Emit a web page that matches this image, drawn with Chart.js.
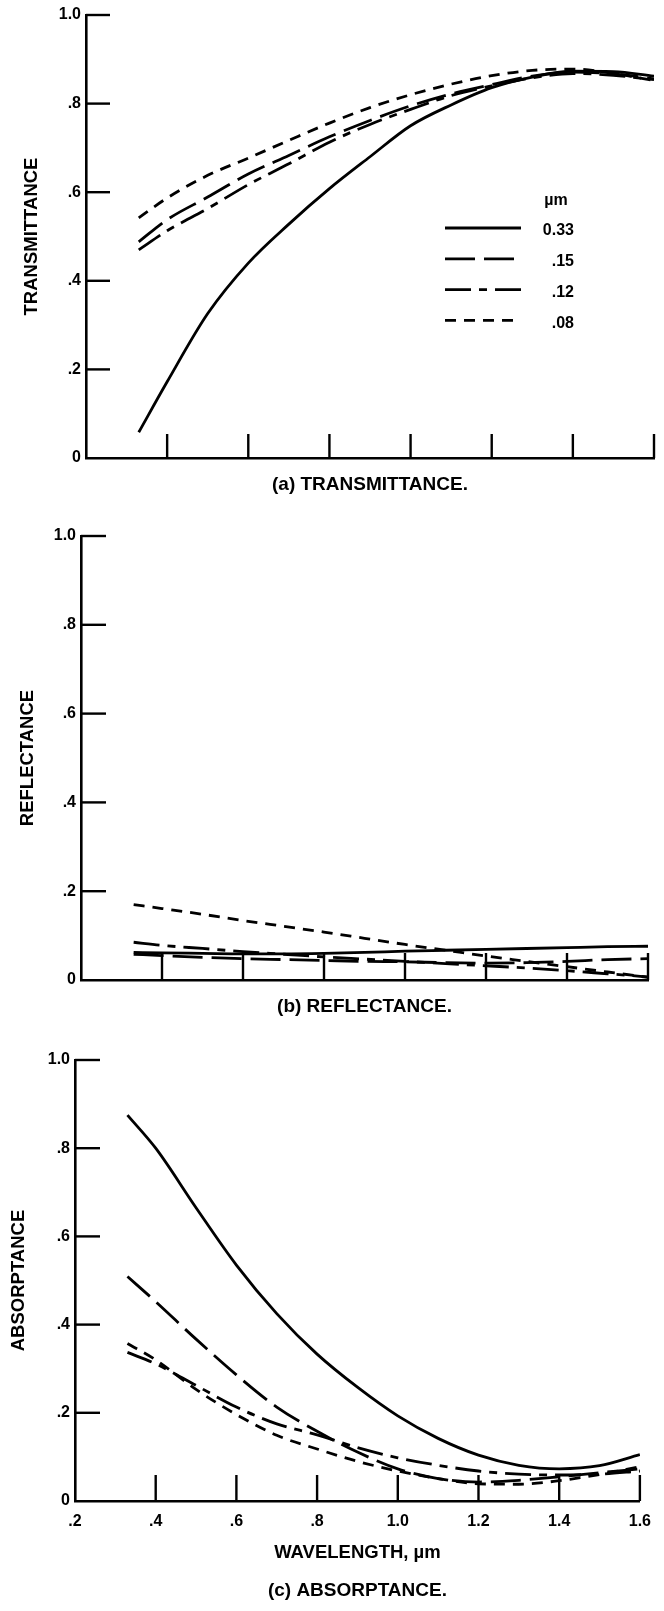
<!DOCTYPE html>
<html>
<head>
<meta charset="utf-8">
<title>Transmittance, reflectance and absorptance vs wavelength</title>
<script src="https://cdn.jsdelivr.net/npm/chart.js@4.4.1/dist/chart.umd.min.js"></script>
<style>
  html, body { margin: 0; padding: 0; background: #fff; }
  body { width: 664px; height: 1611px; position: relative; overflow: hidden; }
  canvas { position: absolute; left: 0; }
</style>
</head>
<body>
<canvas id="panelA" width="664" height="510" style="top:0px"></canvas>
<canvas id="panelB" width="664" height="520" style="top:510px"></canvas>
<canvas id="panelC" width="664" height="581" style="top:1030px"></canvas>
<script>
// Wavelength samples, µm
const wavelength = [0.33, 0.4, 0.5, 0.6, 0.7, 0.8, 0.9, 1.0, 1.1, 1.2, 1.3, 1.4, 1.5, 1.6];

// Particle sizes, µm (legend labels)
const sizeLabels = ['0.33', '.15', '.12', '.08'];

// (a) Transmittance
const trans033 = [0.058, 0.172, 0.326, 0.440, 0.528, 0.608, 0.680, 0.750, 0.797, 0.836, 0.860, 0.873, 0.872, 0.862];
const trans015 = [0.488, 0.538, 0.589, 0.641, 0.683, 0.725, 0.762, 0.795, 0.822, 0.843, 0.862, 0.871, 0.867, 0.856];
const trans012 = [0.470, 0.513, 0.563, 0.617, 0.664, 0.713, 0.753, 0.787, 0.818, 0.840, 0.858, 0.868, 0.864, 0.854];
const trans008 = [0.542, 0.587, 0.638, 0.677, 0.717, 0.756, 0.791, 0.820, 0.844, 0.863, 0.875, 0.878, 0.868, 0.852];

// (b) Reflectance
const refl033 = [0.062, 0.061, 0.060, 0.059, 0.059, 0.060, 0.062, 0.065, 0.067, 0.069, 0.071, 0.073, 0.075, 0.076];
const refl015 = [0.058, 0.055, 0.051, 0.048, 0.046, 0.044, 0.042, 0.041, 0.039, 0.038, 0.039, 0.042, 0.046, 0.048];
const refl012 = [0.085, 0.078, 0.071, 0.064, 0.058, 0.052, 0.047, 0.042, 0.037, 0.032, 0.027, 0.021, 0.014, 0.007];
const refl008 = [0.170, 0.161, 0.148, 0.134, 0.121, 0.108, 0.094, 0.080, 0.067, 0.054, 0.042, 0.030, 0.018, 0.006];

// (c) Absorptance
const abs033 = [0.875, 0.800, 0.665, 0.535, 0.425, 0.333, 0.258, 0.193, 0.142, 0.104, 0.081, 0.073, 0.080, 0.105];
const abs015 = [0.509, 0.452, 0.367, 0.286, 0.213, 0.158, 0.111, 0.073, 0.051, 0.043, 0.047, 0.055, 0.064, 0.073];
const abs012 = [0.337, 0.311, 0.262, 0.213, 0.175, 0.150, 0.121, 0.098, 0.081, 0.068, 0.061, 0.059, 0.061, 0.068];
const abs008 = [0.357, 0.320, 0.253, 0.196, 0.149, 0.118, 0.090, 0.068, 0.051, 0.039, 0.038, 0.046, 0.060, 0.078];

// Axis tick labels
const yTickLabels = ['0', '.2', '.4', '.6', '.8', '1.0'];
const xTickLabels = ['.2', '.4', '.6', '.8', '1.0', '1.2', '1.4', '1.6'];

// Line styles per particle size
const lineStyles = [
  { dash: [] },
  { dash: [30, 9] },
  { dash: [26, 8, 8, 8] },
  { dash: [11, 8] }
];

const FONT = 'Helvetica, "Liberation Sans", Arial, sans-serif';
const INK = '#000';

// Short tick marks drawn inward from the axes
const inwardTicks = {
  id: 'inwardTicks',
  afterDatasetsDraw(chart, args, o) {
    const { ctx, chartArea: a, scales: { x, y } } = chart;
    ctx.save();
    ctx.strokeStyle = INK;
    ctx.lineWidth = o.width;
    ctx.setLineDash([]);
    y.ticks.forEach(t => {
      if (t.value <= y.min + 1e-9) return;
      const py = y.getPixelForValue(t.value);
      ctx.beginPath();
      ctx.moveTo(a.left, py);
      ctx.lineTo(a.left + o.yLen, py);
      ctx.stroke();
    });
    x.ticks.forEach(t => {
      if (t.value <= x.min + 1e-9) return;
      const px = x.getPixelForValue(t.value);
      ctx.beginPath();
      ctx.moveTo(px, a.bottom);
      ctx.lineTo(px, a.bottom - o.xLen);
      ctx.stroke();
    });
    ctx.restore();
  }
};

// Key of line styles placed inside the plot
const sizeKey = {
  id: 'sizeKey',
  afterDraw(chart, args, o) {
    if (!o.show) return;
    const ctx = chart.ctx;
    ctx.save();
    ctx.fillStyle = INK;
    ctx.font = o.font;
    ctx.textBaseline = 'middle';
    ctx.textAlign = 'center';
    ctx.fillText(o.title, o.titleX, o.titleY);
    ctx.textAlign = 'right';
    chart.data.datasets.forEach((ds, i) => {
      const yy = o.top + i * o.gap;
      ctx.strokeStyle = ds.borderColor;
      ctx.lineWidth = ds.borderWidth;
      ctx.setLineDash(ds.borderDash || []);
      ctx.beginPath();
      ctx.moveTo(o.x0, yy);
      ctx.lineTo(o.x1, yy);
      ctx.stroke();
      ctx.setLineDash([]);
      ctx.fillText(ds.label, o.textX, yy + o.textDy);
    });
    ctx.restore();
  }
};

function makeDatasets(seriesList) {
  return seriesList.map((vals, i) => ({
    label: sizeLabels[i],
    data: wavelength.map((w, k) => ({ x: w, y: vals[k] })),
    borderColor: INK,
    borderWidth: 2.8,
    borderDash: lineStyles[i].dash,
    pointRadius: 0,
    fill: false,
    cubicInterpolationMode: 'monotone'
  }));
}

function makeChart(id, seriesList, p) {
  const tickFont = { family: FONT, size: 16, weight: 'bold', lineHeight: 1 };
  const titleFont = { family: FONT, size: 18.5, weight: 'bold', lineHeight: 1 };
  return new Chart(document.getElementById(id), {
    type: 'line',
    data: { datasets: makeDatasets(seriesList) },
    plugins: [inwardTicks, sizeKey],
    options: {
      responsive: false,
      animation: false,
      devicePixelRatio: 1,
      events: [],
      layout: { padding: p.padding },
      scales: {
        x: {
          type: 'linear',
          min: 0.2,
          max: 1.6,
          grid: { display: false, drawTicks: false },
          border: { display: true, color: INK, width: 2.6 },
          ticks: {
            display: p.xLabels,
            stepSize: 0.2,
            autoSkip: false,
            maxRotation: 0,
            padding: 13,
            color: INK,
            font: tickFont,
            callback: (v, i) => xTickLabels[i]
          },
          title: {
            display: !!p.xTitle,
            text: p.xTitle || '',
            color: INK,
            font: titleFont,
            padding: { top: 0, bottom: 0 }
          },
          afterFit: s => { s.height = p.xHeight; }
        },
        y: {
          type: 'linear',
          min: 0,
          max: 1,
          grid: { display: false, drawTicks: false },
          border: { display: true, color: INK, width: 2.6 },
          ticks: {
            stepSize: 0.2,
            padding: 5,
            color: INK,
            font: tickFont,
            callback: (v, i) => yTickLabels[i]
          },
          title: {
            display: true,
            text: p.yTitle,
            color: INK,
            font: titleFont,
            padding: { top: p.yTitlePad, bottom: 0 }
          },
          afterFit: s => { s.width = p.yWidth; }
        }
      },
      plugins: {
        legend: { display: false },
        tooltip: { enabled: false },
        title: {
          display: true,
          position: 'bottom',
          fullSize: false,
          text: p.caption,
          color: INK,
          font: { family: FONT, size: 19, weight: 'bold', lineHeight: 1 },
          padding: { top: p.captionPad, bottom: 0 }
        },
        inwardTicks: { width: 2.4, xLen: p.xTickLen, yLen: p.yTickLen },
        sizeKey: p.key || { show: false }
      }
    }
  });
}

makeChart('panelA', [trans033, trans015, trans012, trans008], {
  padding: { left: 8, top: 15, right: 10, bottom: 16 },
  yWidth: 78,
  xHeight: 4,
  xLabels: false,
  yTitle: 'TRANSMITTANCE',
  yTitlePad: 15,
  caption: '(a) TRANSMITTANCE.',
  captionPad: 13,
  xTickLen: 24,
  yTickLen: 24,
  key: {
    show: true,
    font: 'bold 16px ' + FONT,
    title: 'µm',
    titleX: 556,
    titleY: 201,
    top: 228,
    gap: 30.8,
    x0: 445,
    x1: 521,
    textX: 574,
    textDy: 3
  }
});

makeChart('panelB', [refl033, refl015, refl012, refl008], {
  padding: { left: 8, top: 26, right: 16, bottom: 14 },
  yWidth: 73,
  xHeight: 4,
  xLabels: false,
  yTitle: 'REFLECTANCE',
  yTitlePad: 11,
  caption: '(b) REFLECTANCE.',
  captionPad: 13,
  xTickLen: 27,
  yTickLen: 25
});

makeChart('panelC', [abs033, abs015, abs012, abs008], {
  padding: { left: 2, top: 30, right: 20, bottom: 11 },
  yWidth: 73,
  xHeight: 61,
  xLabels: true,
  xTitle: 'WAVELENGTH, µm',
  yTitle: 'ABSORPTANCE',
  yTitlePad: 8,
  caption: '(c) ABSORPTANCE.',
  captionPad: 19,
  xTickLen: 26,
  yTickLen: 25
});
</script>
</body>
</html>
